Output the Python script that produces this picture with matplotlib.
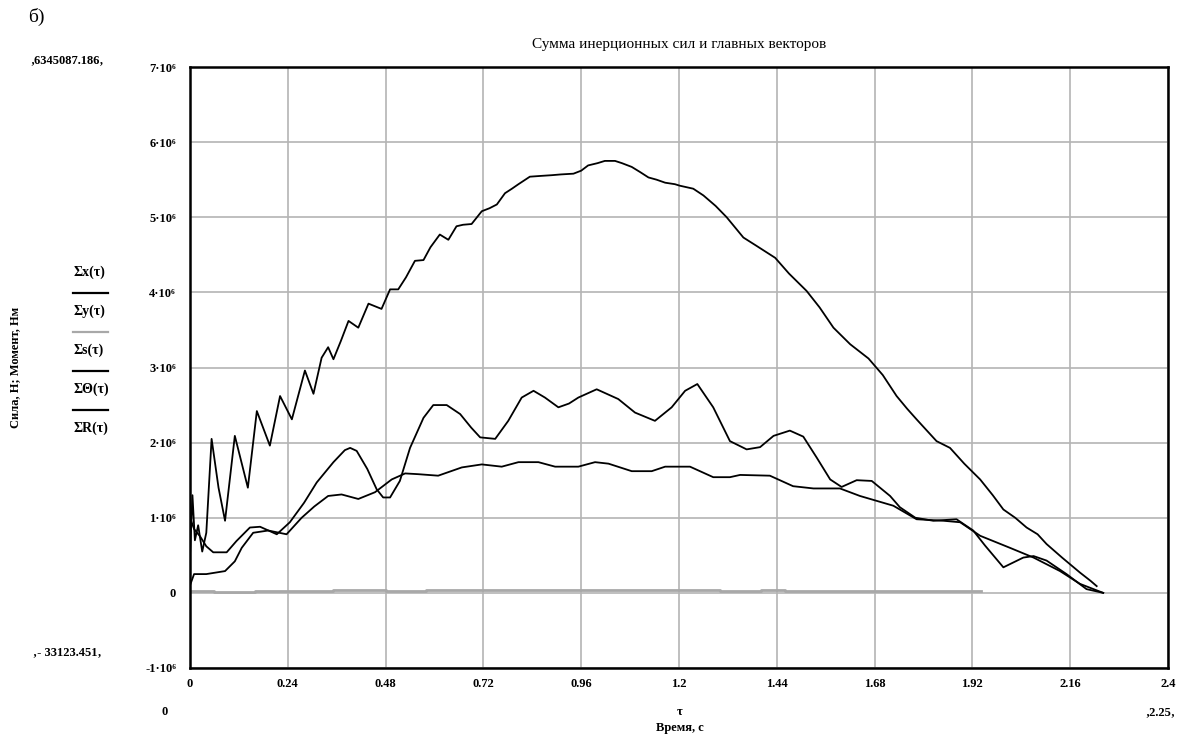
import matplotlib
matplotlib.use("Agg")
import matplotlib.pyplot as plt
from matplotlib.lines import Line2D
import numpy as np

plt.rcParams['font.family'] = ['Liberation Serif', 'DejaVu Serif']

# time, s and forces in units of 1e6
t_sx = [0, 0.006, 0.012, 0.02, 0.03, 0.04, 0.053, 0.07, 0.086, 0.11, 0.142, 0.164,
        0.196, 0.221, 0.25, 0.282, 0.303, 0.323, 0.339, 0.352, 0.37, 0.389, 0.413,
        0.438, 0.47, 0.491, 0.511, 0.53, 0.552, 0.573, 0.59, 0.613, 0.634, 0.654,
        0.67, 0.691, 0.716, 0.735, 0.753, 0.773, 0.79, 0.806, 0.834, 0.86, 0.888,
        0.91, 0.941, 0.96, 0.977, 1.0, 1.018, 1.043, 1.06, 1.084, 1.105, 1.125,
        1.145, 1.166, 1.19, 1.202, 1.235, 1.26, 1.29, 1.317, 1.358, 1.39, 1.436,
        1.47, 1.513, 1.545, 1.579, 1.62, 1.665, 1.7, 1.734, 1.76, 1.783, 1.81,
        1.832, 1.865, 1.9, 1.939, 1.97, 1.996, 2.025, 2.053, 2.08, 2.102, 2.14,
        2.184, 2.21, 2.225]
sx = [0.5, 1.3, 0.7, 0.9, 0.55, 0.8, 2.05, 1.4, 0.96, 2.09, 1.40, 2.42, 1.96, 2.62,
      2.31, 2.96, 2.65, 3.13, 3.27, 3.11, 3.35, 3.62, 3.53, 3.85, 3.78, 4.04, 4.04,
      4.2, 4.42, 4.43, 4.6, 4.77, 4.70, 4.88, 4.90, 4.91, 5.08, 5.12, 5.17, 5.32,
      5.38, 5.44, 5.54, 5.55, 5.56, 5.57, 5.58, 5.62, 5.69, 5.72, 5.75, 5.75, 5.72,
      5.67, 5.60, 5.53, 5.50, 5.46, 5.44, 5.42, 5.38, 5.29, 5.15, 5.0, 4.73, 4.62,
      4.46, 4.25, 4.02, 3.80, 3.53, 3.31, 3.12, 2.90, 2.62, 2.45, 2.31, 2.15, 2.02,
      1.93, 1.72, 1.51, 1.30, 1.11, 1.00, 0.87, 0.78, 0.65, 0.47, 0.27, 0.16, 0.09]

t_ss = [0, 0.01, 0.025, 0.04, 0.057, 0.09, 0.114, 0.147, 0.172, 0.213, 0.245, 0.28,
        0.311, 0.352, 0.38, 0.393, 0.409, 0.435, 0.458, 0.474, 0.491, 0.515, 0.54,
        0.573, 0.597, 0.63, 0.663, 0.69, 0.712, 0.749, 0.781, 0.814, 0.843, 0.871,
        0.904, 0.93, 0.953, 0.998, 1.051, 1.092, 1.141, 1.182, 1.215, 1.245, 1.284,
        1.325, 1.366, 1.399, 1.432, 1.472, 1.505, 1.538, 1.571, 1.599, 1.636, 1.673,
        1.718, 1.742, 1.78, 1.824, 1.881, 1.922, 1.951, 1.996, 2.045, 2.07, 2.102,
        2.151, 2.2, 2.241]
ss = [1.0, 0.85, 0.75, 0.62, 0.54, 0.54, 0.69, 0.87, 0.88, 0.78, 0.94, 1.2, 1.47,
      1.74, 1.9, 1.93, 1.89, 1.65, 1.38, 1.27, 1.27, 1.49, 1.93, 2.33, 2.50, 2.50,
      2.38, 2.2, 2.07, 2.05, 2.29, 2.60, 2.69, 2.60, 2.47, 2.52, 2.60, 2.71, 2.58,
      2.40, 2.29, 2.47, 2.69, 2.78, 2.47, 2.02, 1.91, 1.94, 2.09, 2.16, 2.08, 1.80,
      1.51, 1.41, 1.50, 1.49, 1.29, 1.14, 1.0, 0.96, 0.98, 0.83, 0.63, 0.34, 0.47,
      0.49, 0.43, 0.25, 0.05, 0.0]

t_st = [0, 0.01, 0.04, 0.086, 0.11, 0.127, 0.155, 0.192, 0.237, 0.274, 0.305, 0.339,
        0.372, 0.413, 0.454, 0.495, 0.528, 0.56, 0.609, 0.667, 0.716, 0.765, 0.806,
        0.855, 0.896, 0.953, 0.994, 1.027, 1.084, 1.133, 1.166, 1.227, 1.284, 1.325,
        1.35, 1.423, 1.48, 1.53, 1.595, 1.644, 1.726, 1.783, 1.849, 1.89, 1.939,
        2.012, 2.07, 2.135, 2.184, 2.241]
st = [0.1, 0.25, 0.25, 0.29, 0.42, 0.60, 0.80, 0.83, 0.78, 1.00, 1.15, 1.29, 1.31,
      1.25, 1.34, 1.51, 1.59, 1.58, 1.56, 1.67, 1.71, 1.68, 1.74, 1.74, 1.68, 1.68,
      1.74, 1.72, 1.62, 1.62, 1.68, 1.68, 1.54, 1.54, 1.57, 1.56, 1.42, 1.39, 1.39,
      1.29, 1.16, 0.98, 0.96, 0.94, 0.76, 0.60, 0.47, 0.29, 0.12, 0.0]

t_sy = [0, 0.06, 0.16, 0.35, 0.48, 0.58, 1.30, 1.40, 1.46, 1.94]
sy = [0.03, 0.01, 0.02, 0.04, 0.02, 0.04, 0.02, 0.04, 0.02, 0.02]

x_ticks = [0, 0.24, 0.48, 0.72, 0.96, 1.2, 1.44, 1.68, 1.92, 2.16, 2.4]
x_labels = ["0", "0.24", "0.48", "0.72", "0.96", "1.2", "1.44", "1.68", "1.92", "2.16", "2.4"]
y_ticks = [-1, 0, 1, 2, 3, 4, 5, 6, 7]
y_labels = ["-1·10⁶", "0", "1·10⁶", "2·10⁶", "3·10⁶", "4·10⁶", "5·10⁶", "6·10⁶", "7·10⁶"]

legend_names = ["Σx(τ)", "Σy(τ)", "Σs(τ)", "ΣΘ(τ)", "ΣR(τ)"]
legend_colors = ["black", "#a8a8a8", "black", "black", None]

W, H = 1193, 740
fig = plt.figure(figsize=(W / 100, H / 100), dpi=100)


def px(x, y):
    return x / W, 1 - y / H


ax = fig.add_axes([190 / W, 1 - 668 / H, 978 / W, 601 / H])
scale = 1e6
ax.plot(t_sy, np.array(sy) * scale, color="#a8a8a8", lw=2.0, drawstyle="steps-post")
ax.plot(t_st, np.array(st) * scale, color="black", lw=1.3)
ax.plot(t_ss, np.array(ss) * scale, color="black", lw=1.3)
ax.plot(t_sx, np.array(sx) * scale, color="black", lw=1.3)

ax.set_xlim(0, 2.4)
ax.set_ylim(-1 * scale, 7 * scale)
ax.set_xticks(x_ticks)
ax.set_xticklabels(x_labels, fontweight="bold")
ax.set_yticks(np.array(y_ticks) * scale)
ax.set_yticklabels(y_labels, fontweight="bold")
ax.tick_params(length=0, labelsize=9)
ax.tick_params(axis="x", pad=7)
ax.tick_params(axis="y", pad=10)
ax.grid(True, color="#b4b4b4", lw=1.2)
ax.set_axisbelow(True)
for sp in ax.spines.values():
    sp.set_linewidth(1.8)
    sp.set_color("black")

ax.set_title("Сумма инерционных сил и главных векторов", fontsize=11, pad=14)

fig.text(*px(28, 17), "б)", fontsize=14, ha="left", va="center")
fig.text(*px(30, 60), "‚6345087.186‚", fontsize=9, ha="left", va="center", weight="bold")
fig.text(*px(33, 652), "‚- 33123.451‚", fontsize=9, ha="left", va="center", weight="bold")
fig.text(*px(165, 712), "0", fontsize=9, ha="center", va="center", weight="bold")
fig.text(*px(1160, 712), "‚2.25‚", fontsize=9, ha="center", va="center", weight="bold")
fig.text(*px(680, 712), "τ", fontsize=9, ha="center", va="center", weight="bold")
fig.text(*px(680, 728), "Время, с", fontsize=9, ha="center", va="center", weight="bold")
fig.text(*px(15, 367), "Сила, Н; Момент, Нм", fontsize=9, rotation=90,
         ha="center", va="center", weight="bold")

# Mathcad-style legend on the left of the y axis
for i, (name, col) in enumerate(zip(legend_names, legend_colors)):
    y_lab = 272 + i * 39
    fig.text(*px(74, y_lab), name, fontsize=10, ha="left", va="center", weight="bold")
    if col is not None:
        x0, y0 = px(73, y_lab + 21)
        x1, _ = px(108, y_lab + 21)
        fig.add_artist(Line2D([x0, x1], [y0, y0], color=col, lw=1.6,
                              transform=fig.transFigure))

fig.savefig("out.png", dpi=100)
